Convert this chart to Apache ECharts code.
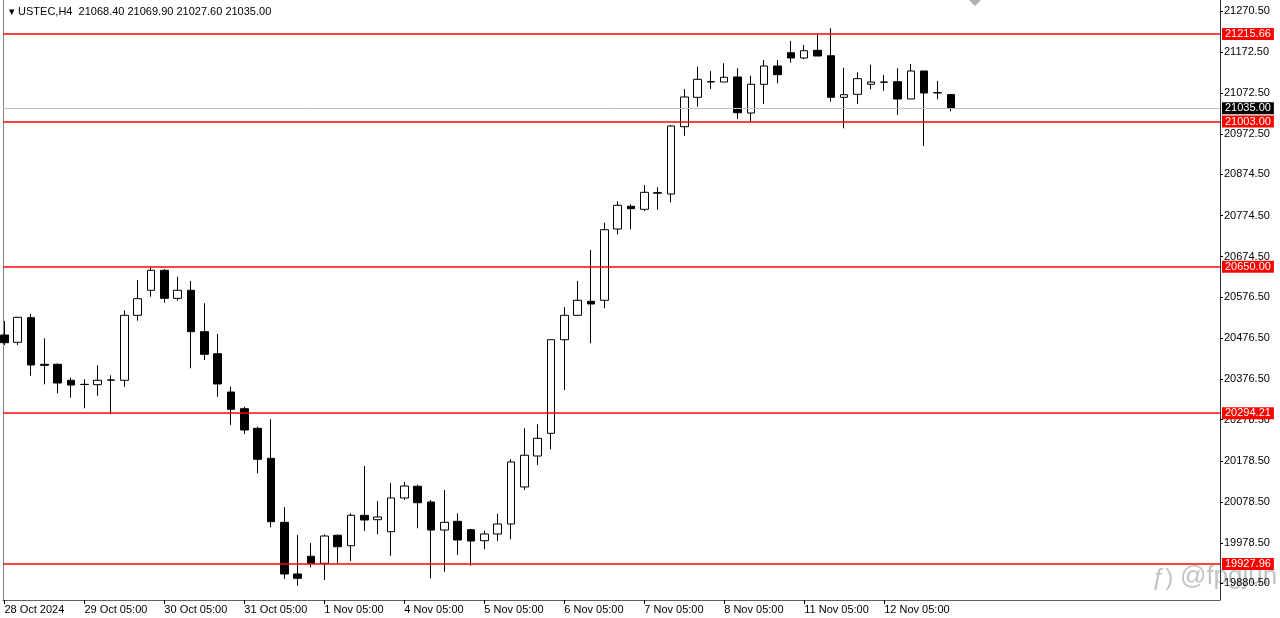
<!DOCTYPE html>
<html>
<head>
<meta charset="utf-8">
<script src="https://cdn.jsdelivr.net/npm/echarts@6/dist/echarts.min.js"></script>
<style>
html,body{margin:0;padding:0;background:#fff;}
#chart{width:1280px;height:618px;}
</style>
</head>
<body>
<div id="chart"></div>
<script>
// ---- data (USTEC, H4) ----
const symbolName = 'USTEC,H4';
const opens  = [20484.2,20466.5,20526.3,20413.0,20413.0,20374.2,20364.4,20363.5,20374.9,20374.2,
                20532.1,20592.9,20641.4,20573.4,20592.9,20492.3,20438.8,20345.7,20305.2,20257.5,
                20184.6,20029.1,19903.5,19946.5,19929.5,19997.5,19972.2,20046.1,20035.4,20006.3,
                20088.2,20116.6,20078.4,20010.4,20031.5,20011.1,19984.4,20000.7,20025.0,20114.9,
                20190.2,20245.4,20472.8,20532.1,20566.1,20568.6,20741.8,20797.0,20789.7,20830.0,
                20826.9,20990.4,21061.9,21099.8,21099.0,21111.2,21023.7,21093.5,21137.9,21170.2,
                21157.4,21176.1,21162.9,21061.9,21069.1,21093.5,21099.0,21099.8,21057.7,21125.8,
                21073.0,21068.40];
const closes = [20465.5,20527.3,20411.4,20410.6,20367.6,20362.7,20364.0,20374.2,20374.5,20532.1,
                20572.5,20641.4,20573.4,20592.9,20492.3,20437.3,20365.2,20303.7,20253.4,20182.2,
                20030.6,19903.5,19893.0,19929.5,19995.8,19969.8,20046.1,20034.7,20042.0,20088.2,
                20117.3,20076.7,20010.4,20029.1,19986.1,19983.7,20000.7,20025.0,20175.7,20192.0,
                20233.2,20472.8,20532.1,20568.6,20559.6,20740.1,20799.4,20791.2,20831.0,20829.0,
                20992.1,21062.6,21105.6,21099.3,21110.5,21024.4,21093.5,21137.9,21116.8,21157.4,
                21175.1,21162.2,21061.9,21068.2,21107.1,21099.0,21098.5,21057.7,21125.8,21072.3,
                21072.5,21035.00];
const lows   = [20459.9,20459.9,20385.3,20364.4,20342.6,20331.9,20306.1,20336.8,20291.5,20358.6,
                20519.0,20577.3,20562.7,20567.6,20403.3,20423.5,20334.3,20265.6,20243.7,20148.1,
                20016.9,19891.3,19875.1,19919.7,19888.9,19929.5,19935.1,20008.0,19999.9,19947.9,
                20083.3,20014.5,19893.0,19909.1,19949.7,19923.7,19963.5,19983.7,19987.8,20107.6,
                20168.3,20206.5,20350.6,20532.9,20464.1,20549.1,20728.9,20741.1,20785.6,20788.7,
                20806.7,20968.5,21039.0,21082.0,21099.0,21009.1,21001.8,21045.6,21095.9,21145.9,
                21154.2,21162.2,21051.2,20986.5,21045.6,21081.3,21077.9,21018.8,21057.7,20943.5,
                21057.0,21027.60];
const highs  = [20518.3,20528.3,20535.3,20476.2,20415.5,20380.5,20376.6,20410.6,20386.3,20544.3,
                20617.9,20648.7,20644.6,20625.9,20615.5,20561.3,20486.7,20358.6,20310.0,20261.4,
                20279.4,20065.6,19998.3,19978.8,19999.9,19999.9,20051.0,20165.9,20080.9,20124.6,
                20127.0,20120.5,20083.3,20107.6,20051.0,20013.0,20008.7,20050.1,20182.2,20257.5,
                20267.3,20472.8,20551.6,20615.5,20690.8,20757.1,20809.1,20801.8,20848.8,20843.2,
                20994.0,21082.0,21136.2,21125.8,21144.5,21132.3,21114.3,21152.5,21152.5,21198.7,
                21189.0,21214.0,21229.5,21133.8,21122.6,21141.1,21116.1,21132.3,21142.8,21125.8,
                21101.5,21069.90];
const xTickBars   = [0, 6, 12, 18, 24, 30, 36, 42, 48, 54, 60, 66];
const xTickLabels = ['28 Oct 2024','29 Oct 05:00','30 Oct 05:00','31 Oct 05:00','1 Nov 05:00',
                     '4 Nov 05:00','5 Nov 05:00','6 Nov 05:00','7 Nov 05:00','8 Nov 05:00',
                     '11 Nov 05:00','12 Nov 05:00'];
const yTickValues = [21270.5,21172.5,21072.5,20972.5,20874.5,20774.5,20674.5,20576.5,
                     20476.5,20376.5,20278.5,20178.5,20078.5,19978.5,19880.5];
const levelLines = [21215.66, 21003.00, 20650.00, 20294.21, 19927.96];
const lastPrice = 21035.00;

// ---- build ----
const candleData = opens.map((o, i) => [i, o, closes[i], lows[i], highs[i]]);
const n = opens.length - 1;
const titleText = '\u25BE ' + symbolName + '  ' +
  [opens[n], highs[n], lows[n], closes[n]].map(v => v.toFixed(2)).join(' ');

const FONT = '"Liberation Sans", Arial, sans-serif';
const yMin = 19840.3, yMax = 21298.3;

function levelMarkLine(values, lineColor, lineWidth, boxColor) {
  return {
    silent: true,
    symbol: ['none', 'none'],
    animation: false,
    lineStyle: {color: lineColor, width: lineWidth, type: 'solid', opacity: 1},
    emphasis: {disabled: true},
    label: {
      show: true, position: 'end', distance: 2,
      fontFamily: FONT, fontSize: 11, padding: [1, 3, 0, 3],
      color: '#ffffff', backgroundColor: boxColor,
      formatter: p => Number(p.value).toFixed(2)
    },
    data: values.map(v => ({yAxis: v}))
  };
}

const chart = echarts.init(document.getElementById('chart'), null, {renderer: 'canvas'});
chart.setOption({
  animation: false,
  backgroundColor: '#ffffff',
  title: {
    text: titleText, left: 4, top: 1,
    textStyle: {fontFamily: FONT, fontSize: 11, fontWeight: 'normal', color: '#000'}
  },
  grid: {left: 3, right: 60, top: 0, bottom: 18},
  xAxis: {
    type: 'value', min: -0.105, max: 91.19,
    axisLine: {show: true, onZero: false, lineStyle: {color: '#606060', width: 1}},
    axisTick: {show: true, customValues: xTickBars, length: 4, lineStyle: {color: '#000'}},
    axisLabel: {
      customValues: xTickBars, align: 'left', margin: 4,
      fontFamily: FONT, fontSize: 11, color: '#000',
      formatter: v => xTickLabels[xTickBars.indexOf(Math.round(v))] || ''
    },
    splitLine: {show: false}
  },
  yAxis: [{
    type: 'value', position: 'right', min: yMin, max: yMax,
    axisLine: {show: true, onZero: false, lineStyle: {color: '#303030', width: 1}},
    axisTick: {show: true, customValues: yTickValues, length: 3, lineStyle: {color: '#000'}},
    axisLabel: {
      customValues: yTickValues, margin: 4,
      fontFamily: FONT, fontSize: 11, color: '#000',
      formatter: v => v.toFixed(2)
    },
    splitLine: {show: false}
  }, {
    type: 'value', position: 'left', min: yMin, max: yMax,
    axisLine: {show: true, onZero: false, lineStyle: {color: '#808080', width: 1}},
    axisTick: {show: false}, axisLabel: {show: false}, splitLine: {show: false}
  }],
  series: [{
    type: 'line', data: [], silent: true, z: 1,
    markLine: levelMarkLine([lastPrice], '#c0c0c0', 1, '#000000')
  }, {
    type: 'line', data: [], silent: true, z: 1,
    markLine: levelMarkLine(levelLines, 'rgba(255,0,0,0.72)', 1.8, '#ff0000')
  }, {
    type: 'candlestick',
    data: candleData,
    encode: {x: 0, y: [1, 2, 3, 4]},
    barWidth: 8, z: 3,
    itemStyle: {color: '#ffffff', color0: '#000000', borderColor: '#000000', borderColor0: '#000000', borderWidth: 1}
  }],
  graphic: [
    {type: 'polygon', shape: {points: [[969, 0], [981, 0], [975, 6]]}, style: {fill: '#b0b0b0'}},
    {type: 'text', left: 1152, top: 566, z: 0, style: {text: '\u0192)', font: '24px ' + FONT, fill: 'rgba(120,120,120,0.45)'}},
    {type: 'text', left: 1180, top: 564, z: 0, style: {text: '@fpgjun', font: '26px ' + FONT, fill: 'rgba(120,120,120,0.45)'}}
  ]
});
</script>
</body>
</html>
